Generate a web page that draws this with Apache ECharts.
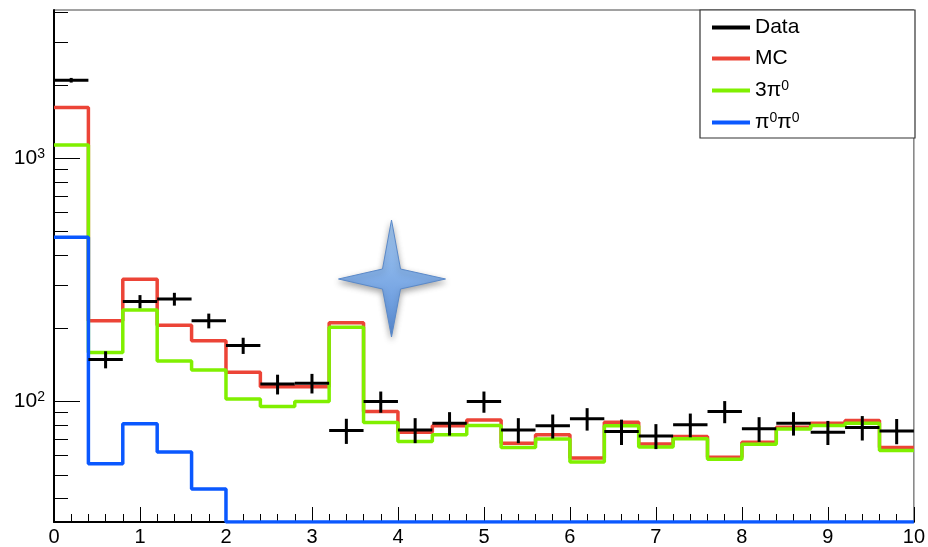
<!DOCTYPE html>
<html>
<head>
<meta charset="utf-8">
<script src="https://cdn.jsdelivr.net/npm/echarts@6/dist/echarts.min.js"></script>
<style>
  html, body { margin: 0; padding: 0; background: #fff; }
  #main { width: 928px; height: 547px; }
</style>
</head>
<body>
<div id="main"></div>
<script>
// bin edges (25 bins, width 0.4)
const binEdges = [0, 0.4, 0.8, 1.2, 1.6, 2.0, 2.4, 2.8, 3.2, 3.6, 4.0, 4.4, 4.8,
  5.2, 5.6, 6.0, 6.4, 6.8, 7.2, 7.6, 8.0, 8.4, 8.8, 9.2, 9.6, 10]

// data points and their errors
const dataCounts = [2094, 149, 258, 264, 215, 170, 118, 119, 76, 100, 76.5, 81.5, 100,
  76.5, 79.5, 85, 75.3, 72.3, 80.3, 91, 77.3, 81.5, 74.8, 78.2, 75.8]
const dataErrors = [46, 12, 16, 16, 15, 13, 11, 11, 9, 10, 9, 9, 10,
  9, 9, 9, 9, 8.5, 9, 9.5, 9, 9, 8.5, 9, 9]

// histograms
const mcCounts = [1618, 215, 318, 206, 178, 132, 115, 115, 211, 91, 74.8, 79.5, 84,
  67.5, 73, 58.6, 82.3, 67, 71.8, 59.1, 68.1, 78.5, 81.5, 83.6, 64.7]
const threePiCounts = [1133, 159, 238, 147, 135, 102.6, 95.4, 100, 202, 82, 68.5, 73, 79.7,
  64.7, 70.2, 56.4, 79.5, 65, 70.3, 57.9, 66.8, 77.2, 79.7, 81.5, 62.9]
// empty bins sit on the floor of the log axis
const twoPiCounts = [474, 55.5, 81, 62, 43.7, 32, 32, 32, 32, 32, 32, 32, 32,
  32, 32, 32, 32, 32, 32, 32, 32, 32, 32, 32, 32]

const yMin = 32
const yMax = 4070
const yMajorTicks = [100, 1000]
const yMinorTicks = [40, 50, 60, 70, 80, 90, 200, 300, 400, 500, 600, 700, 800, 900, 2000, 3000, 4000]

const FONT = "'Liberation Sans', Arial, Helvetica, sans-serif"

function stepData(counts) {
  const pts = counts.map((v, i) => [binEdges[i], v])
  pts.push([binEdges[binEdges.length - 1], counts[counts.length - 1]])
  return pts
}

function histSeries(name, counts, color, z) {
  return {
    name: name,
    type: "line",
    step: "end",
    symbol: "none",
    z: z,
    itemStyle: { color: color },
    lineStyle: { color: color, width: 3.5 },
    data: stepData(counts)
  }
}

const supStyle = { fontFamily: FONT, fontSize: 14, verticalAlign: "top", lineHeight: 14, color: "#000" }

const chart = echarts.init(document.getElementById("main"))

const option = {
  backgroundColor: "#fff",
  animation: false,
  grid: {
    left: 54,
    right: 13,
    top: 10,
    bottom: 25,
    show: true,
    borderColor: "#444",
    borderWidth: 1,
    backgroundColor: "#fff"
  },
  legend: {
    orient: "vertical",
    left: 707,
    top: 12,
    z: 20,
    itemWidth: 38,
    itemHeight: 4,
    itemGap: 10,
    icon: "rect",
    selectedMode: false,
    data: ["Data", "MC", "3π0", "π0π0"],
    formatter: (name) => "{b|" + name.replace(/0/g, "}{s|0}{b|") + "}",
    textStyle: {
      fontFamily: FONT,
      fontSize: 21,
      color: "#000",
      rich: {
        b: { fontFamily: FONT, fontSize: 21, lineHeight: 23, color: "#000" },
        s: supStyle
      }
    }
  },
  graphic: [
    {
      type: "rect",
      shape: { x: 700, y: 10, width: 215, height: 128 },
      style: { fill: "#fff", stroke: "#333", lineWidth: 1.2 },
      z: 1
    },
    {
      type: "polygon",
      x: 391.5,
      y: 279,
      shape: {
        points: [[0, -59], [9, -10], [54, 0], [9, 10], [0, 58], [-9, 10], [-53, 0], [-9, -10]]
      },
      style: {
        fill: new echarts.graphic.LinearGradient(0, 0, 0, 1, [
          { offset: 0, color: "#a7ccf5" },
          { offset: 1, color: "#5a8ed8" }
        ]),
        stroke: "#5a89c9",
        lineWidth: 1,
        shadowBlur: 6,
        shadowColor: "rgba(0,0,0,0.35)",
        shadowOffsetY: 3
      },
      z: 10
    }
  ],
  xAxis: {
    type: "value",
    min: 0,
    max: 10,
    interval: 1,
    splitLine: { show: false },
    axisLine: { lineStyle: { color: "#000", width: 2 } },
    axisTick: { inside: true, length: 15, lineStyle: { color: "#000", width: 1 } },
    minorTick: { show: true, splitNumber: 5, length: 8, lineStyle: { color: "#000", width: 1 } },
    axisLabel: { fontFamily: FONT, fontSize: 20, color: "#000", margin: 5 }
  },
  yAxis: [
    {
      type: "log",
      min: yMin,
      max: yMax,
      splitLine: { show: false },
      axisLine: { lineStyle: { color: "#000", width: 2 } },
      axisTick: { inside: true, length: 26, customValues: yMajorTicks, lineStyle: { color: "#000", width: 1 } },
      axisLabel: {
        customValues: yMajorTicks,
        margin: 9,
        formatter: (v) => "{b|10}{s|" + Math.round(Math.log10(v)) + "}",
        fontFamily: FONT,
        fontSize: 20,
        color: "#000",
        rich: {
          b: { fontFamily: FONT, fontSize: 21, lineHeight: 23, color: "#000" },
          s: supStyle
        }
      }
    },
    {
      type: "log",
      min: yMin,
      max: yMax,
      position: "left",
      splitLine: { show: false },
      axisLine: { show: false },
      axisTick: { inside: true, length: 14, customValues: yMinorTicks, lineStyle: { color: "#000", width: 1 } },
      axisLabel: { show: false }
    }
  ],
  series: [
    histSeries("MC", mcCounts, "#ec4437", 3),
    histSeries("3π0", threePiCounts, "#80f000", 4),
    histSeries("π0π0", twoPiCounts, "#0a58ff", 5),
    {
      name: "Data",
      type: "custom",
      z: 6,
      itemStyle: { color: "#000" },
      data: dataCounts.map((v, i) => [binEdges[i], binEdges[i + 1], v, dataErrors[i]]),
      renderItem: (params, api) => {
        const lo = api.value(0)
        const hi = api.value(1)
        const y = api.value(2)
        const err = api.value(3)
        const mid = (lo + hi) / 2
        const pL = api.coord([lo, y])
        const pR = api.coord([hi, y])
        const pTop = api.coord([mid, y + err])
        const pBot = api.coord([mid, y - err])
        const style = { stroke: "#000", lineWidth: 3 }
        return {
          type: "group",
          children: [
            { type: "line", shape: { x1: pL[0], y1: pL[1], x2: pR[0], y2: pR[1] }, style: style },
            { type: "line", shape: { x1: pTop[0], y1: pTop[1], x2: pBot[0], y2: pBot[1] }, style: style }
          ]
        }
      }
    }
  ]
}

chart.setOption(option)
</script>
</body>
</html>
